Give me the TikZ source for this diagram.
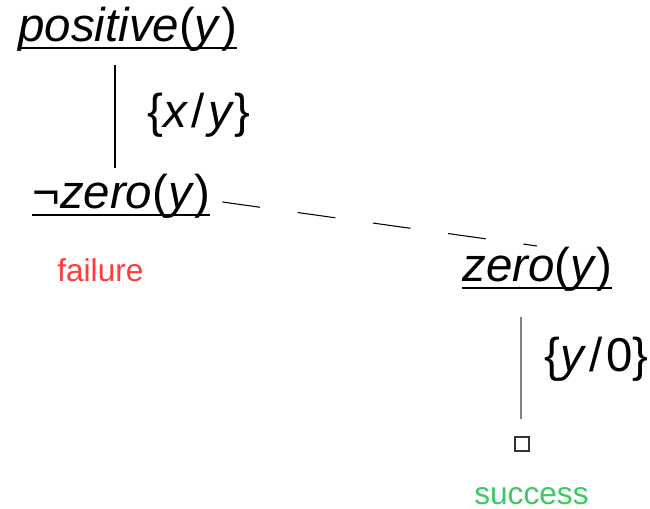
\documentclass[tikz,border=0pt]{standalone}
\usepackage{fontspec}
\setmainfont{Liberation Sans}
\usetikzlibrary{calc}
\definecolor{failred}{HTML}{FF3B3B}
\definecolor{succgreen}{HTML}{3CC864}
% underlined goal text, rule close under the baseline
\newcommand\ulgoal[1]{{\setbox0\hbox{#1}\rlap{\rule[-3.9pt]{\wd0}{1.1pt}}\box0}}
\tikzset{
  term/.style={inner sep=0pt, anchor=base west, font=\fontsize{27}{32}\selectfont},
  subst/.style={inner sep=0pt, anchor=base west, font=\fontsize{27}{32}\selectfont},
  note/.style={inner sep=0pt, anchor=base west, font=\fontsize{18}{22}\selectfont},
  branch/.style={line width=0.6pt},
  alt/.style={line width=0.6pt, dash pattern=on 0.76cm off 0.76cm},
  emptybox/.style={draw=black!80, line width=0.8pt, minimum size=0.28cm, inner sep=0pt}
}
\begin{document}
\begin{tikzpicture}[x=0.02cm, y=-0.02cm]
\useasboundingbox (0,0) rectangle (650,509);
% goals
\node[term] (pos) at (18,42) {\ulgoal{\textit{positive}(\textit{y})}};
\node[term] (negzero) at (32,209) {\ulgoal{¬\textit{zero}(\textit{y})}};
\node[term] (zero) at (462,282) {\ulgoal{\textit{zero}(\textit{y})}};
\node[emptybox] (box) at (522,444) {};
% substitutions
\node[subst] (s1) at (147,128) {\{\textit{x}\kern2pt/\kern2pt\textit{y}\}};
\node[subst] (s2) at (544,372) {\{\textit{y}\kern2pt/\kern2pt0\}};
% results
\node[note, text=failred] (fail) at (57,282) {failure};
\node[note, text=succgreen] (succ) at (474,505) {success};
% branches
\draw[branch] ($(pos.base west)+(97,23)$) -- ($(negzero.base west)+(83,-41)$);
\draw[alt] ($(negzero.base east)+(12,-7)$) -- ($(zero.base west)+(75,-36)$);
\draw[branch, black!50] ($(zero.base west)+(59,35)$) -- ($(box.north)+(-1,-17)$);
\end{tikzpicture}
\end{document}
